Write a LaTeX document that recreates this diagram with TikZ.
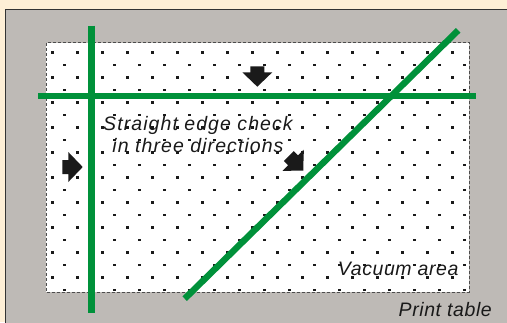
\documentclass[tikz,border=0pt]{standalone}
\usepackage{fontspec}
\setmainfont{Liberation Sans}
\newfontfamily\labelfont[LetterSpace=3.0]{Liberation Sans}
\usepackage{xcolor}
\definecolor{cream}{HTML}{FEEFD6}
\definecolor{tablegray}{HTML}{BEBAB6}
\definecolor{edgegreen}{HTML}{00913A}
\definecolor{dotblack}{HTML}{1A1A1A}
\usepackage{tikz}

\begin{document}
\begin{tikzpicture}[
  x=1pt, y=-1pt,
  table/.style={fill=tablegray, draw=black!80, line width=0.9pt},
  vacuum/.style={fill=white, draw=black!70, line width=0.7pt, dash pattern=on 3pt off 2pt},
  straightedge/.style={draw=edgegreen, line width=6.4pt},
  push/.style={fill=dotblack},
  label/.style={font=\labelfont\itshape\fontsize{19.5}{22}\selectfont, text=black!90, inner sep=0pt}]

% ---- canvas: 507 x 322, image coordinates (y grows downwards) ----------
\useasboundingbox (0,0) rectangle (507,322);
\clip (0,0) rectangle (507,322);
\fill[cream] (0,0) rectangle (507,322);

% one push arrow, tip at #1, turned by #2 degrees
\newcommand{\pusharrow}[2]{%
  \fill[push, shift={#1}, rotate=#2]
    (0,0) -- (-14.4,15) -- (-14.4,7) -- (-20.4,7) -- (-20.4,-7)
    -- (-14.4,-7) -- (-14.4,-15) -- cycle;}

% ======================= the print table and the vacuum area ============
\draw[table] (5,9) rectangle (512,330);
\draw[vacuum] (46,42.7) rectangle (469,292);
\foreach \j in {0,...,9} {
  \foreach \k in {0,...,16} {
    \fill[dotblack] ({52.3+25*\k-1.25},{52.3+25*\j-1.25}) rectangle +(2.5,2.5);
    \fill[dotblack] ({64.3+25*\k-1.25},{64.8+25*\j-1.25}) rectangle +(2.5,2.5);
  }
}

% ======================= labels =========================================
% base anchor of a two-line node sits on its last line
\node[label, anchor=base, align=center, font=\labelfont\itshape\fontsize{19.5}{22}\selectfont\addfontfeature{LetterSpace=5.5}]
  (check) at (198,152) {Straight edge check\\in three directions};
\node[label, anchor=base east] (vacuum) at (458.7,275.7) {Vacuum area};
\node[label, anchor=base east] (table) at (492,316) {Print table};

% ======================= the three straight edges =======================
\coordinate (vtop) at (91.5,25.7);  \coordinate (vbot) at (91.5,313.3);
\coordinate (hleft) at (38,95.9);   \coordinate (hright) at (476.3,95.9);
\coordinate (dbot) at (184.7,298.7); \coordinate (dtop) at (458.2,30.3);
\draw[straightedge] (vtop) -- (vbot);
\draw[straightedge] (hleft) -- (hright);
\draw[straightedge] (dbot) -- (dtop);

% ======================= push directions ================================
\pusharrow{(257.3,86.7)}{-90}
\pusharrow{(82.7,167)}{0}
\pusharrow{(303.3,170.5)}{-45}

\end{tikzpicture}
\end{document}
